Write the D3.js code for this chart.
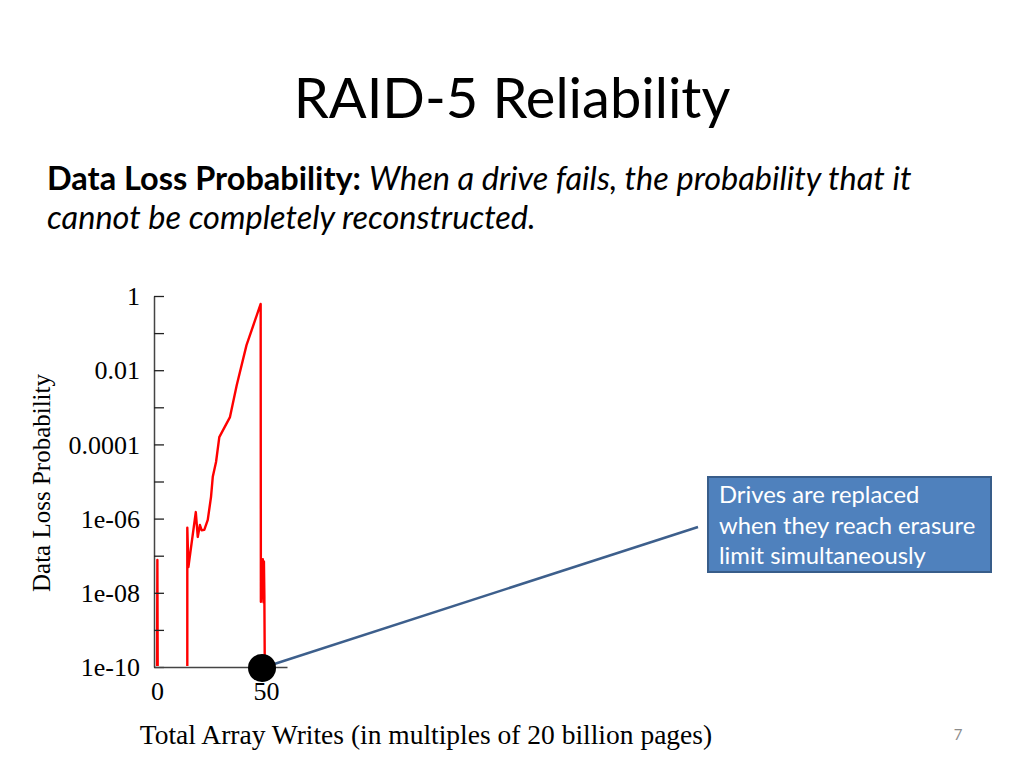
<!DOCTYPE html>
<html>
<head>
<meta charset="utf-8">
<script src="https://cdn.jsdelivr.net/npm/d3@7"></script>
<style>
  body { margin: 0; background: #fff; }
  svg { display: block; }
</style>
</head>
<body>
<svg width="1024" height="768"></svg>
<script>
// data: total writes (x 20 billion pages) vs log10 of loss probability
var writes = [0, 0.15, 0.3, 13.9, 13.9, 14.4, 17.8, 18.7, 19.7, 20.5, 21.7, 23.3, 24.8, 25.6, 27.1, 28.6, 33.5, 36.6, 41.1, 47.6, 47.7, 48.6, 48.9, 49.1, 49.3, 49.5];
var logLoss = [-10, -7.06, -10, -10, -6.19, -7.25, -5.77, -6.44, -6.12, -6.26, -6.25, -5.98, -5.36, -4.82, -4.42, -3.75, -3.21, -2.35, -1.27, -0.16, -8.19, -7.04, -8.2, -7.1, -8.0, -10];
var yTicks = [1, 1e-2, 1e-4, 1e-6, 1e-8, 1e-10];
var yTickLabels = ['1', '0.01', '0.0001', '1e-06', '1e-08', '1e-10'];
var yMinor = [1e-1, 1e-3, 1e-5, 1e-7, 1e-9];
var xTicks = [0, 50];
var calloutLines = ['Drives are replaced', 'when they reach erasure', 'limit simultaneously'];
var marked = [49.6, 1e-10];

var svg = d3.select('svg');

var x = d3.scaleLinear().domain([-1.4, 59.7]).range([154, 287]);
var y = d3.scaleLog().domain([1e-10, 1]).range([667, 296]);

// title and subtitle
svg.append('text').attr('x', 512).attr('y', 118).attr('text-anchor', 'middle')
  .attr('font-family', 'Lato').attr('font-size', 56).attr('fill', '#000').text('RAID-5 Reliability');

var sub = svg.append('text').attr('x', 47).attr('y', 190)
  .attr('font-family', 'Lato').attr('font-size', 32.5).attr('fill', '#000');
sub.append('tspan').attr('font-weight', 'bold').text('Data Loss Probability: ');
sub.append('tspan').attr('font-style', 'italic').text('When a drive fails, the probability that it');
svg.append('text').attr('x', 47).attr('y', 229)
  .attr('font-family', 'Lato').attr('font-size', 32.5).attr('font-style', 'italic').attr('fill', '#000')
  .text('cannot be completely reconstructed.');

// red curve, clipped just above the x axis so the zero stretch hides under it
svg.append('clipPath').attr('id', 'plotclip').append('rect')
  .attr('x', 140).attr('y', 280).attr('width', 160).attr('height', 386);
var pts = writes.map(function(w, i) { return [w, Math.pow(10, logLoss[i])]; });
var line = d3.line().x(function(d) { return x(d[0]); }).y(function(d) { return y(Math.max(d[1], 1e-10)) + 2; });
svg.append('path').datum(pts).attr('d', line).attr('fill', 'none').attr('clip-path', 'url(#plotclip)')
  .attr('stroke', '#ff0000').attr('stroke-width', 2.4).attr('stroke-linejoin', 'round');

// y axis, ticks pointing inward
var yAxis = svg.append('g').attr('transform', 'translate(154,0)')
  .call(d3.axisRight(y).tickValues(yTicks.concat(yMinor)).tickSize(10).tickSizeOuter(0).tickFormat(''));
yAxis.select('.domain').attr('stroke', '#444').attr('stroke-width', 1.5);
yAxis.selectAll('.tick line').attr('stroke', '#222').attr('stroke-width', 1.3);

svg.append('g').selectAll('text').data(yTicks).enter().append('text')
  .attr('x', 140).attr('y', function(d) { return y(d); }).attr('dy', '0.35em')
  .attr('text-anchor', 'end').attr('font-family', 'Liberation Serif').attr('font-size', 26).attr('fill', '#000')
  .text(function(d, i) { return yTickLabels[i]; });

// x axis
var xAxis = svg.append('g').attr('transform', 'translate(0,667)')
  .call(d3.axisBottom(x).tickValues(xTicks).tickSize(0).tickSizeOuter(0).tickPadding(15));
xAxis.select('.domain').attr('stroke', '#444').attr('stroke-width', 1.5);
xAxis.selectAll('.tick text').attr('font-family', 'Liberation Serif').attr('font-size', 26).attr('fill', '#000');

svg.append('text').attr('x', 426).attr('y', 744).attr('text-anchor', 'middle')
  .attr('font-family', 'Liberation Serif').attr('font-size', 27.5).attr('fill', '#000')
  .text('Total Array Writes (in multiples of 20 billion pages)');

svg.append('text').attr('transform', 'translate(50,483) rotate(-90)').attr('text-anchor', 'middle')
  .attr('font-family', 'Liberation Serif').attr('font-size', 25).attr('fill', '#000')
  .text('Data Loss Probability');

// callout
svg.append('line').attr('x1', x(marked[0])).attr('y1', y(marked[1]))
  .attr('x2', 698).attr('y2', 527).attr('stroke', '#3d5f8c').attr('stroke-width', 2.5);
svg.append('circle').attr('cx', x(marked[0]) - 3).attr('cy', y(marked[1]) + 1).attr('r', 14).attr('fill', '#000');

svg.append('rect').attr('x', 708).attr('y', 477).attr('width', 283).attr('height', 95)
  .attr('fill', '#4f81bd').attr('stroke', '#385d8a').attr('stroke-width', 2);
svg.append('g').selectAll('text').data(calloutLines).enter().append('text')
  .attr('x', 719).attr('y', function(d, i) { return 503 + i * 30.5; })
  .attr('font-family', 'Lato').attr('font-size', 23.8).attr('fill', '#fff')
  .text(function(d) { return d; });

svg.append('text').attr('x', 958).attr('y', 740).attr('text-anchor', 'middle')
  .attr('font-family', 'Lato').attr('font-size', 15).attr('fill', '#8c8c8c').text('7');
</script>
</body>
</html>
